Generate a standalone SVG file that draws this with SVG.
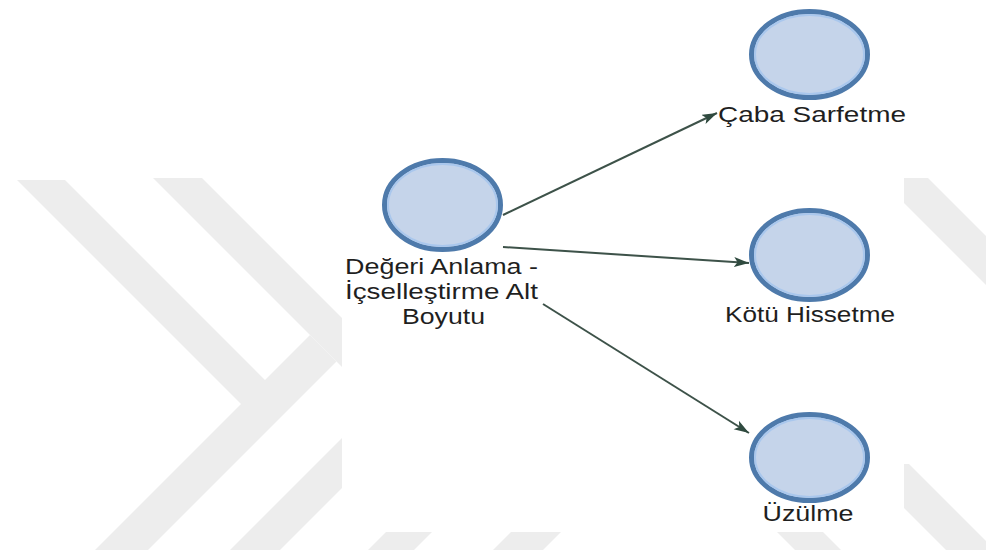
<svg xmlns="http://www.w3.org/2000/svg" width="986" height="550" viewBox="0 0 986 550">
  <defs>
    <style>
      .wm { fill: #ededed; }
      .node-shape { fill: #c5d4ea; stroke: #4e7aab; stroke-width: 5; }
      .node-ring { fill: none; stroke: #a9c7ed; stroke-width: 2; }
      .label { font-family: "Liberation Sans", Arial, sans-serif; font-size: 22px; fill: #1f1f1f; text-anchor: middle; }
      .edge { fill: none; stroke: #3d5249; stroke-width: 2; marker-end: url(#arrow); }
    </style>
    <marker id="arrow" markerUnits="userSpaceOnUse" markerWidth="16" markerHeight="12" refX="15" refY="5" orient="auto">
      <path d="M0,0 L15,5 L0,10 L3.5,5 Z" fill="#2f4a3f"/>
    </marker>
  </defs>

  <rect width="986" height="550" fill="#ffffff"/>

  <!-- background watermark bands -->
  <g id="watermark">
    <polygon class="wm" points="17,180 241,404 95,550 148,550 336.5,361.5 310,335 265,380 65,180"/>
    <polygon class="wm" points="153,178 202,178 420,396 371,396"/>
    <polygon class="wm" points="230,550 280,550 430,400 380,400"/>
    <polygon class="wm" points="368,550 414,550 464,500 418,500"/>
    <polygon class="wm" points="493,550 543,550 593,500 543,500"/>
    <polygon class="wm" points="745,500 791,500 841,550 795,550"/>
    <polygon class="wm" points="860,464 909,464 995,550 946,550"/>
    <polygon class="wm" points="879,178 928,178 1100,350 1051,350"/>
  </g>

  <!-- diagram canvas -->
  <rect x="342" y="0" width="562" height="532" fill="#ffffff"/>

  <!-- connectors -->
  <g id="edges">
    <line class="edge" x1="503" y1="215" x2="717" y2="113"/>
    <line class="edge" x1="503" y1="247" x2="749" y2="263"/>
    <line class="edge" x1="543" y1="304" x2="749" y2="433"/>
  </g>

  <g id="node-degeri-anlama">
    <ellipse class="node-shape" cx="442.5" cy="205" rx="58" ry="44.5"/>
    <ellipse class="node-ring" cx="442.5" cy="205" rx="54.5" ry="41"/>
    <text class="label" x="441.5" y="274" textLength="193" lengthAdjust="spacingAndGlyphs">Değeri Anlama -</text>
    <text class="label" x="441.5" y="299" textLength="193" lengthAdjust="spacingAndGlyphs">İçselleştirme Alt</text>
    <text class="label" x="443.5" y="324" textLength="83" lengthAdjust="spacingAndGlyphs">Boyutu</text>
  </g>

  <g id="node-caba-sarfetme">
    <ellipse class="node-shape" cx="809.5" cy="54.5" rx="58" ry="43"/>
    <ellipse class="node-ring" cx="809.5" cy="54.5" rx="54.5" ry="39.5"/>
    <text class="label" x="812" y="122" textLength="188" lengthAdjust="spacingAndGlyphs">Çaba Sarfetme</text>
  </g>

  <g id="node-kotu-hissetme">
    <ellipse class="node-shape" cx="809.5" cy="255" rx="58" ry="44.5"/>
    <ellipse class="node-ring" cx="809.5" cy="255" rx="54.5" ry="41"/>
    <text class="label" x="810" y="322" textLength="170" lengthAdjust="spacingAndGlyphs">Kötü Hissetme</text>
  </g>

  <g id="node-uzulme">
    <ellipse class="node-shape" cx="809.5" cy="457.5" rx="58" ry="43"/>
    <ellipse class="node-ring" cx="809.5" cy="457.5" rx="54.5" ry="39.5"/>
    <text class="label" x="808" y="521" textLength="91" lengthAdjust="spacingAndGlyphs">Üzülme</text>
  </g>
</svg>
